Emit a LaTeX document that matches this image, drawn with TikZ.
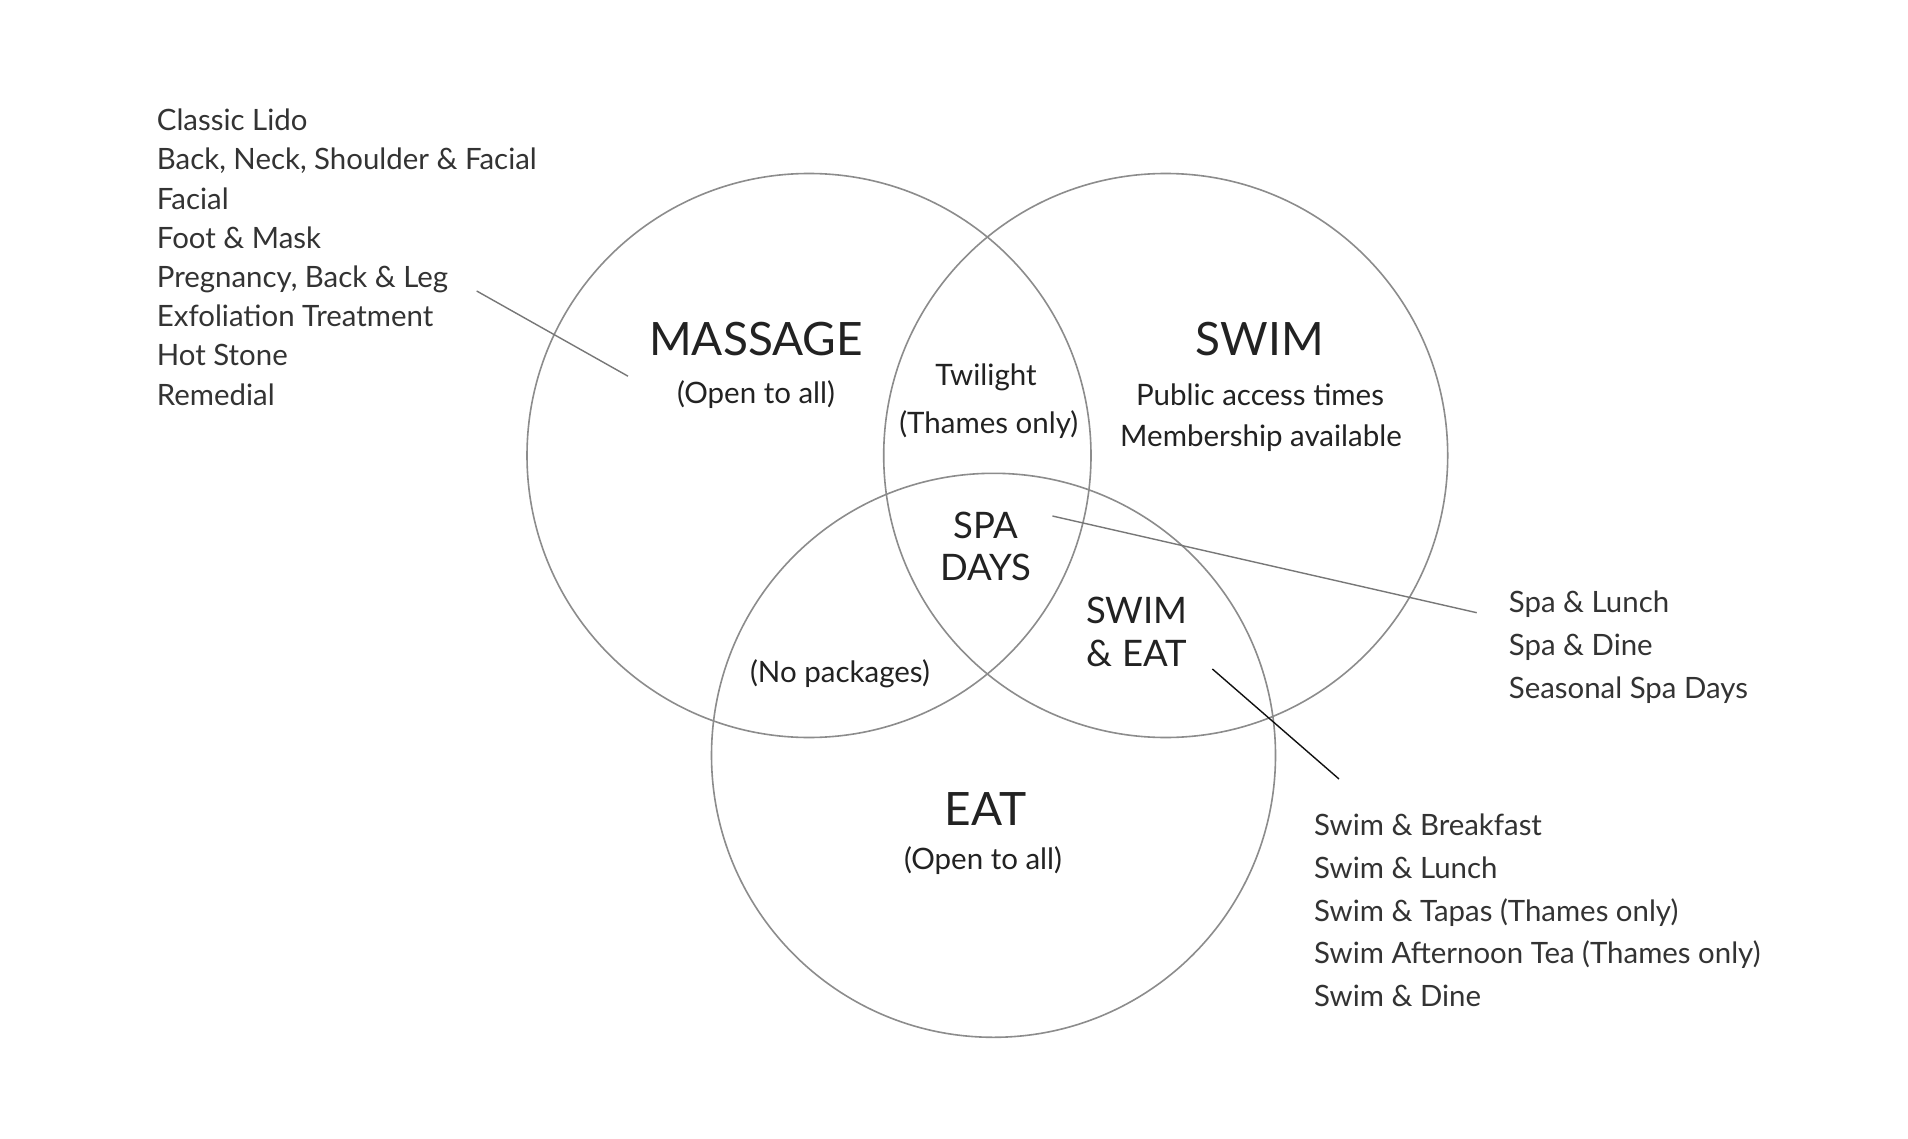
\documentclass[tikz,border=0pt]{standalone}
\usepackage{fontspec}
\setmainfont{Lato}
\definecolor{ringgray}{HTML}{8C8C8C}
\definecolor{labelblack}{HTML}{222222}
\definecolor{listgray}{HTML}{333333}
\definecolor{leadgray}{HTML}{777777}
\definecolor{leadblack}{HTML}{111111}
\begin{document}
\begin{tikzpicture}[x=1pt,y=-1pt,
  ring/.style={draw=ringgray, line width=1.6pt, circle, minimum size=564pt, inner sep=0pt},
  biglabel/.style={font=\fontsize{46}{50}\selectfont, text=labelblack, inner sep=0pt, anchor=base},
  midlabel/.style={font=\fontsize{36.5}{42}\selectfont, text=labelblack, inner sep=0pt, anchor=base},
  smalllabel/.style={font=\fontsize{29.5}{35}\selectfont, text=labelblack, inner sep=0pt, anchor=base},
  item/.style={font=\fontsize{29.4}{35}\selectfont, text=listgray, inner sep=0pt, anchor=base west},
  leader/.style={draw=leadgray, line width=1.4pt},
  darkleader/.style={draw=leadblack, line width=1.4pt}]
\fill[white] (0,0) rectangle (1908,1139);
\useasboundingbox (0,0) rectangle (1908,1139);

% circles
\node[ring] (massage) at (809,455.5) {};
\node[ring] (swim) at (1165.7,455.5) {};
\node[ring] (eat) at (993.5,755.3) {};

% circle labels
\node[biglabel] (tmassage) at (756,355.2) {MASSAGE};
\node[smalllabel] (omassage) at (756,403) {(Open to all)};
\node[biglabel] (tswim) at (1260,355.2) {SWIM};
\node[smalllabel] (pswim) at (1260,405) {Public access times};
\node[smalllabel] (mswim) at (1261,446) {Membership available};
\node[smalllabel] (twilight) at (986,385.8) {Twilight};
\node[smalllabel] (thames) at (988.8,433.6) {(Thames only)};
\node[midlabel] (spa) at (986,538) {SPA};
\node[midlabel] (days) at (986,580.2) {DAYS};
\node[midlabel] (swimeat1) at (1137,623) {SWIM};
\node[midlabel] (swimeat2) at (1137,666) {\& EAT};
\node[smalllabel] (nopack) at (840,682.4) {(No packages)};
\node[biglabel] (teat) at (985.6,825.7) {EAT};
\node[smalllabel] (oeat) at (983,869) {(Open to all)};

% lists
\foreach \t [count=\i] in {Classic Lido, {Back, Neck, Shoulder \& Facial}, Facial, Foot \& Mask,
  {Pregnancy, Back \& Leg}, Exfoliation Treatment, Hot Stone, Remedial}
  \node[item] (ml\i) at (156.7,{130.7+39.2*(\i-1)}) {\t};
\foreach \t [count=\i] in {Spa \& Lunch, Spa \& Dine, Seasonal Spa Days}
  \node[item] (sl\i) at (1508.7,{612.7+42.8*(\i-1)}) {\t};
\foreach \t [count=\i] in {Swim \& Breakfast, Swim \& Lunch, Swim \& Tapas (Thames only),
  Swim Afternoon Tea (Thames only), Swim \& Dine}
  \node[item] (el\i) at (1314,{835.7+42.65*(\i-1)}) {\t};

% leaders
\coordinate (a1) at (476.7,291);
\coordinate (a2) at (628,376.2);
\coordinate (b1) at (1052.4,516);
\coordinate (b2) at (1476.7,612.7);
\coordinate (c1) at (1212.4,669);
\coordinate (c2) at (1339,779);
\draw[leader] (a1) -- (a2);
\draw[leader] (b1) -- (b2);
\draw[darkleader] (c1) -- (c2);
\end{tikzpicture}
\end{document}
